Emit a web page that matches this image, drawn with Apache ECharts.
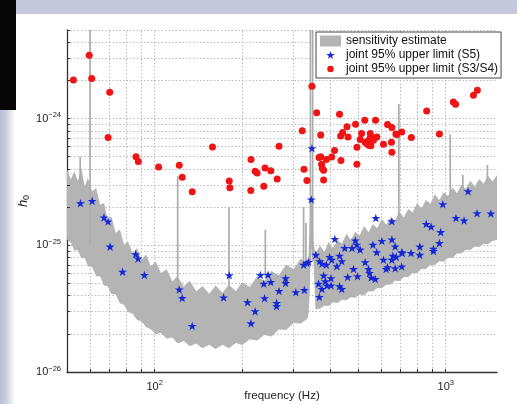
<!DOCTYPE html>
<html>
<head>
<meta charset="utf-8">
<script src="https://cdn.jsdelivr.net/npm/echarts@6/dist/echarts.min.js"></script>
<style>
  html, body { margin: 0; padding: 0; background: #fff; }
  #chart { width: 517px; height: 404px; }
</style>
</head>
<body>
<div id="chart"></div>
<script>
// sensitivity band (Hz, lower / upper h0)
const bandFreq = [50, 51.5, 53, 54.5, 56, 57.5, 59, 61, 63, 65, 67, 69, 71, 73.5, 76, 78.5, 81, 84, 87, 90,
  93.5, 97, 101, 105, 110, 115, 120, 126, 132, 139, 146, 154, 162, 171, 180, 190, 200, 212, 225, 238,
  252, 267, 283, 300, 318, 335, 338, 341, 344, 348, 351, 354,
  357, 370, 383, 396, 410, 425, 440, 456, 472, 489, 506, 524, 543, 562, 582, 603, 624, 646, 669, 693,
  718, 743, 770, 797, 825, 855, 885, 917, 950, 984, 1019, 1055, 1093, 1132, 1172, 1214, 1257, 1302,
  1349, 1397, 1447, 1500];
const bandUpper = [3.96e-25, 3.30e-25, 3.84e-25, 3.20e-25, 4.08e-25, 2.92e-25, 3.40e-25, 2.67e-25, 2.83e-25, 2.09e-25,
  2.16e-25, 1.59e-25, 1.69e-25, 1.25e-25, 1.33e-25, 1.01e-25, 1.07e-25, 8.70e-26, 9.53e-26, 7.70e-26,
  8.44e-26, 6.83e-26, 7.40e-26, 6.05e-26, 6.46e-26, 5.20e-26, 5.69e-26, 4.72e-26, 5.26e-26, 4.33e-26,
  4.78e-26, 4.15e-26, 4.81e-26, 4.23e-26, 4.89e-26, 4.36e-26, 5.14e-26, 4.69e-26, 5.69e-26, 5.20e-26,
  6.27e-26, 5.80e-26, 7.03e-26, 6.50e-26, 7.85e-26, 7.25e-26,
  8.5e-26, 1.5e-25, 2.4e-25, 2.2e-25, 1.1e-25, 9.5e-26,
  8.70e-26, 9.9e-26, 8.9e-26, 1.06e-25, 9.5e-26, 1.10e-25, 1.03e-25, 1.24e-25, 1.10e-25, 1.28e-25,
  1.19e-25, 1.42e-25, 1.27e-25, 1.47e-25, 1.37e-25, 1.62e-25, 1.45e-25, 1.66e-25, 1.57e-25, 1.84e-25,
  1.66e-25, 1.93e-25, 1.82e-25, 2.15e-25, 1.95e-25, 2.28e-25, 2.13e-25, 2.53e-25, 2.27e-25, 2.62e-25,
  2.45e-25, 2.86e-25, 2.58e-25, 3.00e-25, 2.78e-25, 3.24e-25, 2.90e-25, 3.33e-25, 3.06e-25, 3.56e-25,
  3.18e-25, 3.58e-25];
const bandLower = [1.11e-25, 1.05e-25, 9.08e-26, 9.18e-26, 7.85e-26, 7.98e-26, 6.83e-26, 6.75e-26, 5.69e-26, 5.66e-26,
  4.81e-26, 4.75e-26, 4.12e-26, 4.08e-26, 3.47e-26, 3.40e-26, 2.98e-26, 2.90e-26, 2.57e-26, 2.51e-26,
  2.26e-26, 2.17e-26, 1.99e-26, 2.04e-26, 1.83e-26, 1.87e-26, 1.68e-26, 1.76e-26, 1.60e-26, 1.68e-26,
  1.54e-26, 1.64e-26, 1.52e-26, 1.64e-26, 1.54e-26, 1.69e-26, 1.63e-26, 1.81e-26, 1.77e-26, 1.96e-26,
  1.91e-26, 2.16e-26, 2.15e-26, 2.44e-26, 2.41e-26, 2.63e-26,
  2.9e-26, 4.2e-26, 8.5e-26, 1.0e-25, 8.0e-26, 4.8e-26,
  3.11e-26, 3.15e-26, 3.34e-26, 3.32e-26, 3.55e-26, 3.51e-26, 3.72e-26, 3.68e-26, 3.89e-26, 3.85e-26,
  4.08e-26, 4.04e-26, 4.33e-26, 4.31e-26, 4.61e-26, 4.58e-26, 4.89e-26, 4.89e-26, 5.26e-26, 5.23e-26,
  5.63e-26, 5.63e-26, 6.05e-26, 6.05e-26, 6.50e-26, 6.50e-26, 6.98e-26, 6.98e-26, 7.47e-26, 7.43e-26,
  7.98e-26, 7.94e-26, 8.60e-26, 8.60e-26, 9.24e-26, 9.18e-26, 9.76e-26, 9.70e-26, 1.03e-25, 1.02e-25,
  1.08e-25, 1.10e-25];

// narrow instrumental lines sticking out of the band
const spikeFreq = [55.5, 60, 120, 180, 240, 325, 331, 343, 349, 690, 1036, 1145, 1390];
const spikeLow = [3.0e-25, 1.0e-25, 4.5e-26, 4.5e-26, 5.5e-26, 7.0e-26, 7.0e-26, 7.5e-26, 7.5e-26, 1.5e-25, 2.4e-25, 2.8e-25, 3.2e-25];
const spikeHigh = [5.0e-25, 5e-24, 3.5e-25, 2.0e-25, 1.33e-25, 2.0e-25, 1.5e-25, 5e-24, 5e-24, 1.3e-24, 7.5e-25, 3.6e-25, 4.3e-25];

// joint 95% upper limit (S5)
const s5Freq = [55.6, 61, 67, 69.2, 70.3, 86.1, 87.7, 77.6, 92.2, 121.5, 124.4, 134.6, 172.5, 180.4, 208.5, 214.3,
  221.4, 230.8, 237.1, 245.4, 250.6, 238.6, 262.4, 262.4, 267.5, 281.8, 281.8, 305.5, 326.8, 325, 333.5, 338,
  347.1, 345.3, 415.9, 575.1, 653, 857, 891, 977, 961, 1084, 1156, 1193, 1281, 1429, 815, 814, 907, 907, 951,
  760, 709, 706, 670, 358, 368.8, 375.5, 388.9, 399, 406, 365.6, 380.8, 375.5, 390.8, 403.5, 403.5, 385.6, 368,
  431.6, 422.7, 439.5, 431.6, 439.5, 449.8, 460.5, 476.5, 489, 495, 508, 497.6, 482, 528.5, 543, 547, 554.5,
  572.6, 562, 579.5, 603.4, 611, 624, 631, 653, 658, 670, 676, 653, 706];
const s5H = [2.15e-25, 2.24e-25, 1.66e-25, 1.54e-25, 9.76e-26, 8.5e-26, 7.85e-26, 6.19e-26, 5.83e-26, 4.47e-26, 3.84e-26,
  2.31e-26, 3.88e-26, 5.8e-26, 3.55e-26, 2.42e-26, 3.01e-26, 5.83e-26, 4.98e-26, 5.86e-26, 5.14e-26, 3.82e-26,
  3.51e-26, 3.3e-26, 4.36e-26, 5.49e-26, 5.04e-26, 4.26e-26, 4.44e-26, 7.03e-26, 7.26e-26, 7.37e-26, 5.83e-25,
  2.3e-25, 1.12e-25, 1.64e-25, 1.55e-25, 1.47e-25, 1.40e-25, 2.11e-25, 1.27e-25, 1.64e-25, 1.57e-25, 2.67e-25,
  1.79e-25, 1.78e-25, 9.76e-26, 8.4e-26, 9.4e-26, 9.0e-26, 1.04e-25, 8.7e-26, 8.7e-26, 6.8e-26, 6.6e-26, 8.4e-26,
  7.48e-26, 7.16e-26, 7.03e-26, 8.09e-26, 7.7e-26, 4.98e-26, 5.77e-26, 4.52e-26, 4.81e-26, 5.49e-26, 4.81e-26,
  5.2e-26, 3.91e-26, 8.28e-26, 6.83e-26, 7.48e-26, 4.75e-26, 4.52e-26, 9.53e-26, 5.62e-26, 9.53e-26, 1.09e-25,
  1.01e-25, 9.24e-26, 5.69e-26, 6.5e-26, 7.34e-26, 6.5e-26, 6.05e-26, 5.58e-26, 5.42e-26, 1.01e-25, 8.8e-26,
  1.08e-25, 7.7e-26, 6.5e-26, 6.7e-26, 1.11e-25, 8.28e-26, 9.8e-26, 8.1e-26, 7.7e-26, 8.8e-26];

// joint 95% upper limit (S3/S4)
const s34Freq = [52.6, 59.6, 60.8, 70.1, 69.2, 86.3, 87.9, 103.2, 121.5, 124.4, 134.6, 158, 180.4, 181.3, 214.3, 213.9,
  221.4, 224.9, 239.5, 237.1, 250.6, 263.6, 267.5, 321.4, 325.8, 333.5, 347.1, 360.3, 371.9, 367, 372, 374.6,
  376.5, 380.5, 380.5, 388.9, 405.7, 415, 431.6, 436.5, 442.5, 435.5, 457.9, 461.6, 490, 495.3, 495.3, 508.3,
  513.7, 527, 528.5, 534.5, 540, 544, 550.5, 547.6, 557, 564.8, 574, 580, 553, 611, 631, 653, 651, 653, 674,
  679, 706, 762, 860, 951, 1062, 1081, 1245, 1284];
const s34H = [2.02e-24, 3.16e-24, 2.07e-24, 1.61e-24, 7.1e-25, 5.0e-25, 4.58e-25, 4.15e-25, 4.28e-25, 3.44e-25, 2.64e-25,
  5.97e-25, 3.22e-25, 2.85e-25, 4.75e-25, 2.7e-25, 3.84e-25, 3.72e-25, 4.08e-25, 2.92e-25, 3.88e-25, 3.34e-25,
  6.05e-25, 8.0e-25, 3.98e-25, 3.24e-25, 1.8e-24, 1.11e-24, 7.43e-25, 4.92e-25, 5.0e-25, 4.36e-25, 4.06e-25,
  3.91e-25, 3.28e-25, 4.75e-25, 4.98e-25, 5.59e-25, 1.08e-24, 4.66e-25, 7.75e-25, 7.3e-25, 8.6e-25, 7.17e-25,
  9.0e-25, 5.94e-25, 4.36e-25, 6.83e-25, 7.62e-25, 9.7e-25, 6.5e-25, 6.35e-25, 6.58e-25, 6.16e-25, 7.62e-25,
  6.9e-25, 7.1e-25, 6.75e-25, 9.7e-25, 7.17e-25, 6.1e-25, 6.27e-25, 8.97e-25, 8.5e-25, 6.5e-25, 5.42e-25,
  7.57e-25, 7.47e-25, 7.85e-25, 7.08e-25, 1.15e-24, 7.57e-25, 1.35e-24, 1.3e-24, 1.53e-24, 1.67e-24];

// grid / tick positions
const xGridTicks = [60, 70, 80, 90, 100, 200, 300, 400, 500, 600, 700, 800, 900, 1000];
const yGridTicks = [2e-26, 3e-26, 4e-26, 5e-26, 6e-26, 7e-26, 8e-26, 9e-26, 1e-25,
  2e-25, 3e-25, 4e-25, 5e-25, 6e-25, 7e-25, 8e-25, 9e-25, 1e-24, 2e-24, 3e-24, 4e-24, 5e-24];

// ECharts rounds very small numbers away, so h0 is plotted in units of 1e-26
const Y_EXP = -26;
const Y_UNIT = 1e-26;
const yv = v => v / Y_UNIT;

const X_MIN = 50, X_MAX = 1500, Y_MIN = 1e-26, Y_MAX = 5e-24;
const FONT = "'Liberation Sans', Arial, Helvetica, sans-serif";

const STAR = 'path://M10 0L12.245 6.91L19.51 6.91L13.633 11.18L15.88 18.09L10 13.82L4.12 18.09L6.367 11.18L0.49 6.91L7.755 6.91Z';
// same star, padded so the legend draws it smaller than the band swatch
const STAR_LEGEND = 'path://M10 -3.4M10 21.5M10 0L12.245 6.91L19.51 6.91L13.633 11.18L15.88 18.09L10 13.82L4.12 18.09L6.367 11.18L0.49 6.91L7.755 6.91Z';
const DOT_LEGEND = 'path://M3.25 -2.25M3.25 8.75M0 3.25A3.25 3.25 0 1 0 6.5 3.25A3.25 3.25 0 1 0 0 3.25Z';

function powLabel(offset) {
  return function (v) {
    const lg = Math.log10(v);
    const e = Math.round(lg);
    if (Math.abs(lg - e) > 1e-6) return '';
    const ex = e + offset;
    const s = ex < 0 ? '\u2212' + (-ex) : String(ex);
    return '{b|10}{s|' + s + '}';
  };
}

const labelRich = {
  b: { fontSize: 11, lineHeight: 15, color: '#222', fontFamily: FONT },
  s: { fontSize: 7.5, lineHeight: 8, verticalAlign: 'top', color: '#222', fontFamily: FONT }
};

const chart = echarts.init(document.getElementById('chart'));

const option = {
  animation: false,
  backgroundColor: '#fff',
  textStyle: { fontFamily: FONT },
  graphic: [
    {
      type: 'rect', left: 0, top: 0, silent: true,
      shape: { width: 517, height: 14 },
      style: { fill: '#c5c8da' }
    },
    {
      type: 'rect', left: 0, top: 0, silent: true,
      shape: { width: 15, height: 404 },
      style: {
        fill: new echarts.graphic.LinearGradient(0, 0, 1, 0, [
          { offset: 0, color: '#b9bdd2' },
          { offset: 0.45, color: '#cfd1e0' },
          { offset: 1, color: '#ffffff' }
        ])
      }
    },
    {
      type: 'rect', left: 0, top: 0, silent: true,
      shape: { width: 16, height: 110 },
      style: { fill: '#060606' }
    }
  ],
  grid: {
    left: 67, right: 20, top: 30, bottom: 32,
    outerBoundsMode: 'none'
  },
  legend: {
    orient: 'vertical',
    left: 316, top: 32,
    padding: [3, 3, 3, 4],
    itemGap: 2,
    itemWidth: 21, itemHeight: 11,
    borderColor: '#444', borderWidth: 1,
    backgroundColor: '#fff',
    selectedMode: false,
    textStyle: { fontSize: 12, color: '#111', fontFamily: FONT, lineHeight: 12 },
    data: [
      { name: 'sensitivity estimate', icon: 'rect', itemStyle: { color: '#b4b4b4' } },
      { name: 'joint 95% upper limit (S5)', icon: STAR_LEGEND },
      { name: 'joint 95% upper limit (S3/S4)', icon: DOT_LEGEND }
    ]
  },
  xAxis: {
    type: 'log', logBase: 10, min: X_MIN, max: X_MAX,
    name: 'frequency (Hz)', nameLocation: 'middle', nameGap: 18, nameMoveOverlap: false,
    nameTextStyle: { fontSize: 11.5, color: '#222', fontFamily: FONT },
    axisLine: { show: true, onZero: false, lineStyle: { color: '#333', width: 1.3 } },
    axisTick: { show: false },
    splitLine: { show: false },
    axisLabel: { formatter: powLabel(0), rich: labelRich, margin: 7 }
  },
  yAxis: {
    type: 'log', logBase: 10, min: yv(Y_MIN), max: yv(Y_MAX),
    name: '{i|h}{sub|0}', nameLocation: 'middle', nameGap: 36, nameRotate: 90, nameMoveOverlap: false,
    nameTextStyle: {
      rich: {
        i: { fontSize: 13, fontStyle: 'italic', lineHeight: 16, color: '#222', fontFamily: FONT },
        sub: { fontSize: 9, lineHeight: 9, verticalAlign: 'bottom', color: '#222', fontFamily: FONT }
      }
    },
    axisLine: { show: true, onZero: false, lineStyle: { color: '#333', width: 1.3 } },
    axisTick: { show: false },
    splitLine: { show: false },
    axisLabel: { formatter: powLabel(Y_EXP), rich: labelRich, margin: 6 }
  },
  series: [
    {
      name: 'sensitivity estimate',
      type: 'custom',
      z: 2,
      silent: true,
      itemStyle: { color: '#b4b4b4' },
      encode: { x: 0, y: [1, 2] },
      data: bandFreq.map((f, i) => [f, yv(bandLower[i]), yv(bandUpper[i])]),
      renderItem: function (params, api) {
        if (params.dataIndex !== 0) return null;
        const pts = [];
        for (let i = 0; i < bandFreq.length; i++) pts.push(api.coord([bandFreq[i], yv(bandUpper[i])]));
        for (let i = bandFreq.length - 1; i >= 0; i--) pts.push(api.coord([bandFreq[i], yv(bandLower[i])]));
        return { type: 'polygon', shape: { points: pts }, style: { fill: '#b4b4b4' } };
      }
    },
    {
      name: 'lines',
      type: 'custom',
      z: 2,
      silent: true,
      encode: { x: 0, y: [1, 2] },
      data: spikeFreq.map((f, i) => [f, yv(spikeLow[i]), yv(spikeHigh[i])]),
      renderItem: function (params, api) {
        const a = api.coord([api.value(0), api.value(1)]);
        const b = api.coord([api.value(0), api.value(2)]);
        return {
          type: 'line',
          shape: { x1: a[0], y1: a[1], x2: b[0], y2: b[1] },
          style: { stroke: '#acacac', lineWidth: 1.7 }
        };
      }
    },
    {
      name: 'joint 95% upper limit (S3/S4)',
      type: 'scatter',
      z: 3,
      symbol: 'circle',
      symbolSize: 7,
      itemStyle: { color: '#f01414', opacity: 1 },
      data: s34Freq.map((f, i) => [f, yv(s34H[i])]),
      markLine: {
        silent: true, z: 1, symbol: 'none', animation: false,
        label: { show: false },
        lineStyle: { color: '#b9b9b9', width: 1, type: [1.5, 2] },
        data: xGridTicks.map(v => ({ xAxis: v })).concat(yGridTicks.map(v => ({ yAxis: yv(v) })))
      }
    },
    {
      name: 'joint 95% upper limit (S5)',
      type: 'scatter',
      z: 4,
      symbol: STAR,
      symbolSize: 9,
      symbolKeepAspect: true,
      itemStyle: { color: '#1428d8', opacity: 1 },
      data: s5Freq.map((f, i) => [f, yv(s5H[i])]),
      markLine: {
        silent: true, z: 5, symbol: 'none', animation: false,
        label: { show: false },
        lineStyle: { color: '#333', width: 1, type: 'solid' },
        data: xGridTicks.map(v => [{ coord: [v, yv(Y_MIN)] }, { coord: [v, yv(Y_MIN) * 1.056] }])
          .concat(yGridTicks.map(v => [{ coord: [X_MIN, yv(v)] }, { coord: [X_MIN * 1.024, yv(v)] }]))
      }
    }
  ]
};

chart.setOption(option);
window.addEventListener('resize', () => chart.resize());
</script>
</body>
</html>
